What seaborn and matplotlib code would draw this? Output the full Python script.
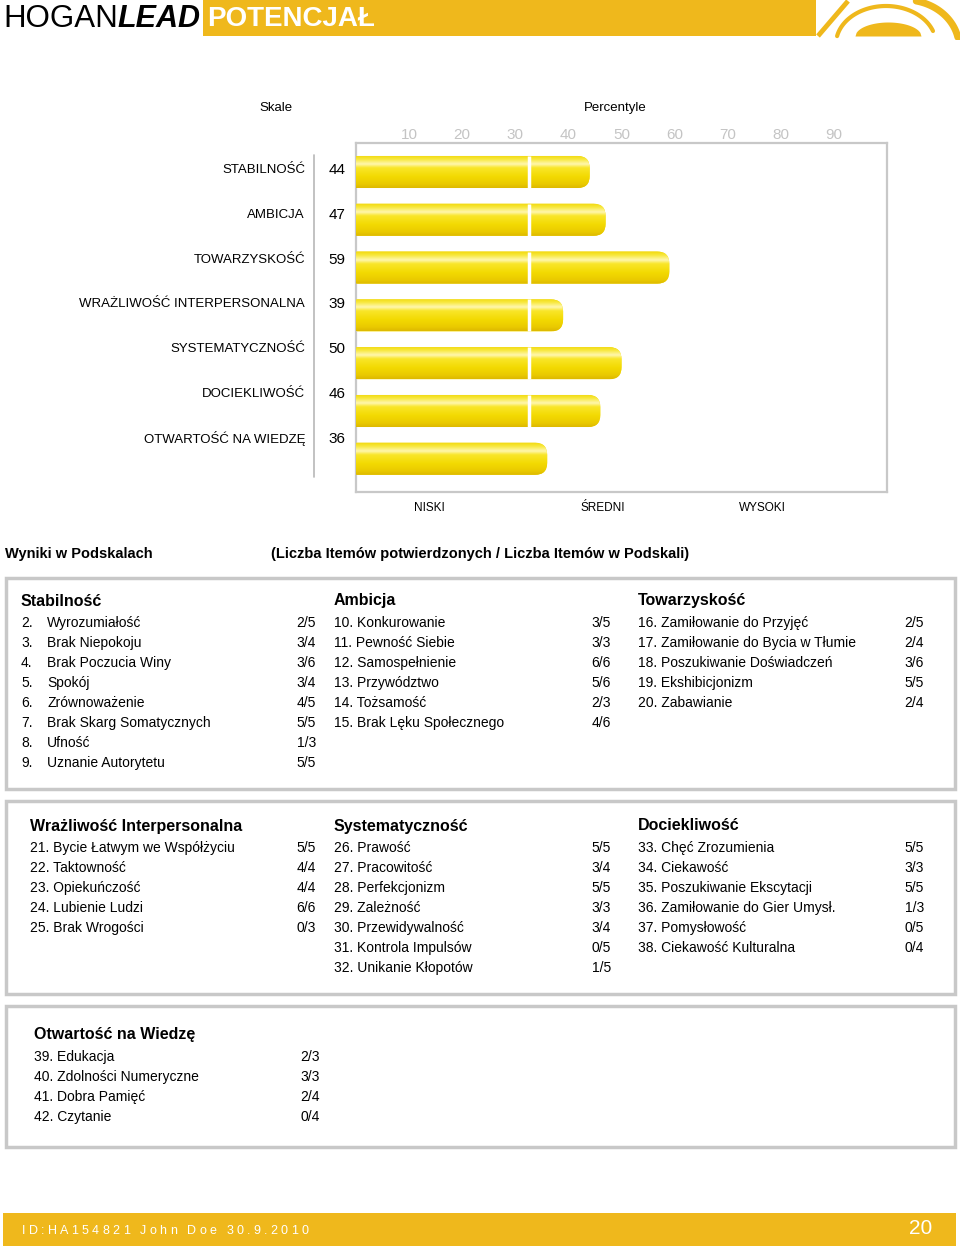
import numpy as np
import pandas as pd
import seaborn as sns
import matplotlib.pyplot as plt
from matplotlib.patches import FancyBboxPatch, Rectangle, BoxStyle
from matplotlib.lines import Line2D
from matplotlib.colors import LinearSegmentedColormap

# --- data ---------------------------------------------------------------
scales = ["STABILNOŚĆ", "AMBICJA", "TOWARZYSKOŚĆ", "WRAŻLIWOŚĆ INTERPERSONALNA",
          "SYSTEMATYCZNOŚĆ", "DOCIEKLIWOŚĆ", "OTWARTOŚĆ NA WIEDZĘ"]
percentiles = [44, 47, 59, 39, 50, 46, 36]
pct_ticks = [10, 20, 30, 40, 50, 60, 70, 80, 90]
bands = ["NISKI", "ŚREDNI", "WYSOKI"]

stab_items = ["Wyrozumiałość", "Brak Niepokoju", "Brak Poczucia Winy", "Spokój",
              "Zrównoważenie", "Brak Skarg Somatycznych", "Ufność", "Uznanie Autorytetu"]
stab_scores = ["2/5", "3/4", "3/6", "3/4", "4/5", "5/5", "1/3", "5/5"]
amb_items = ["Konkurowanie", "Pewność Siebie", "Samospełnienie", "Przywództwo",
             "Tożsamość", "Brak Lęku Społecznego"]
amb_scores = ["3/5", "3/3", "6/6", "5/6", "2/3", "4/6"]
tow_items = ["Zamiłowanie do Przyjęć", "Zamiłowanie do Bycia w Tłumie",
             "Poszukiwanie Doświadczeń", "Ekshibicjonizm", "Zabawianie"]
tow_scores = ["2/5", "2/4", "3/6", "5/5", "2/4"]
wra_items = ["Bycie Łatwym we Współżyciu", "Taktowność", "Opiekuńczość",
             "Lubienie Ludzi", "Brak Wrogości"]
wra_scores = ["5/5", "4/4", "4/4", "6/6", "0/3"]
sys_items = ["Prawość", "Pracowitość", "Perfekcjonizm", "Zależność",
             "Przewidywalność", "Kontrola Impulsów", "Unikanie Kłopotów"]
sys_scores = ["5/5", "3/4", "5/5", "3/3", "3/4", "0/5", "1/5"]
doc_items = ["Chęć Zrozumienia", "Ciekawość", "Poszukiwanie Ekscytacji",
             "Zamiłowanie do Gier Umysł.", "Pomysłowość", "Ciekawość Kulturalna"]
doc_scores = ["5/5", "3/3", "5/5", "1/3", "0/5", "0/4"]
otw_items = ["Edukacja", "Zdolności Numeryczne", "Dobra Pamięć", "Czytanie"]
otw_scores = ["2/3", "3/3", "2/4", "0/4"]

footer_id = "ID:HA154821 John Doe 30.9.2010"
page_no = "20"

# --- style --------------------------------------------------------------
sns.set_style("white")
plt.rcParams["font.family"] = ["Liberation Sans", "DejaVu Sans"]

W, H = 960, 1246
GOLD = "#EFB81C"
GRAY_LINE = "#c8c8c8"
fig = plt.figure(figsize=(W / 100, H / 100), dpi=100)
renderer = fig.canvas.get_renderer()


def fx(x):
    return x / W


def fy(y):
    return 1 - y / H


def txt(x, y, s, **kw):
    kw.setdefault("va", "center")
    kw.setdefault("color", "black")
    return fig.text(fx(x), fy(y), s, **kw)


def frame(x0, y0, x1, y1, **kw):
    r = Rectangle((fx(x0), fy(y1)), (x1 - x0) / W, (y1 - y0) / H,
                  transform=fig.transFigure, **kw)
    fig.add_artist(r)


# --- header -------------------------------------------------------------
frame(203, 0, 812, 36, facecolor=GOLD, edgecolor="none")
t1 = txt(3, 19, "HOGAN", fontsize=22.5)
w1 = t1.get_window_extent(renderer).width
txt(3 + w1, 19, "LEAD", fontsize=22, fontweight="bold", fontstyle="italic")
txt(207, 19, "POTENCJAŁ", fontsize=20, color="white", fontweight="bold")

# logo arcs
lax = fig.add_axes([fx(812), fy(40), 148 / W, 40 / H])
lax.set_xlim(812, 960)
lax.set_ylim(40, 0)
lax.axis("off")
lax.fill_between([812, 816], 0, 36, color=GOLD, lw=0)
lax.plot([818, 848], [36, 1], color=GOLD, lw=3.5, solid_capstyle="butt")
t = np.linspace(np.radians(20), np.radians(168), 60)
lax.plot(886 + 50 * np.cos(t), 44 - 38 * np.sin(t), color=GOLD, lw=3)
xd = np.linspace(855, 921, 60)
lax.fill_between(xd, 36, 36 - 14 * np.sqrt(np.clip(1 - ((xd - 888) / 33) ** 2, 0, 1)),
                 color=GOLD, lw=0)
t = np.linspace(np.radians(12), np.radians(78), 60)
lax.plot(905 + 54 * np.cos(t), 47 - 47 * np.sin(t), color=GOLD, lw=5)

# --- percentile chart ---------------------------------------------------
AX_L, AX_R, AX_T, AX_B = 356, 887, 143, 492
BAR_Y0, BAR_STEP = 172, 47.8
ax = fig.add_axes([fx(AX_L), fy(AX_B), (AX_R - AX_L) / W, (AX_B - AX_T) / H])

df = pd.DataFrame({"scale": scales, "pct": percentiles})
sns.barplot(data=df, x="pct", y="scale", orient="h", ax=ax, width=0.67,
            color="#F3DA00", errorbar=None)

ylo = (AX_T - BAR_Y0) / BAR_STEP
yhi = (AX_B - BAR_Y0) / BAR_STEP
ax.set_xlim(0, 100)
ax.set_ylim(yhi, ylo)

px_x = (AX_R - AX_L) / 100.0
px_y = BAR_STEP
aspect = px_x / px_y

grad = LinearSegmentedColormap.from_list("bar", [
    (0.0, "#F1D80C"), (0.12, "#F8E83C"), (0.27, "#FFF7B2"), (0.38, "#F9E62A"),
    (0.65, "#F3DA02"), (0.88, "#EACA00"), (1.0, "#DDB900")])
gimg = np.linspace(0, 1, 80).reshape(-1, 1)

GAP = 32.5
bars = list(ax.patches)
for p, v in zip(bars, percentiles):
    x0, y0 = p.get_x(), p.get_y()
    w, h = p.get_width(), p.get_height()
    p.remove()
    shape = FancyBboxPatch((x0 - 5, y0), w + 5, h,
                           boxstyle=BoxStyle("Round", pad=0, rounding_size=12 / px_x),
                           mutation_aspect=aspect, facecolor="#F3DA00",
                           edgecolor="none", zorder=2)
    ax.add_patch(shape)
    im = ax.imshow(gimg, cmap=grad, aspect="auto", extent=(x0 - 5, x0 + w, y0 + h, y0),
                   interpolation="bicubic", zorder=3)
    im.set_clip_path(shape)
    if v > GAP + 4:
        ax.vlines(GAP, y0, y0 + h, color="white", lw=2.5, zorder=4)

ax.set_xlim(0, 100)
ax.set_ylim(yhi, ylo)
ax.set_xlabel("")
ax.set_ylabel("")
ax.set_yticks([])
ax.set_xticks(pct_ticks)
ax.xaxis.tick_top()
ax.tick_params(axis="x", length=0, pad=1, labelsize=11, labelcolor="#c4c4c4")
for s in ax.spines.values():
    s.set_visible(True)
    s.set_color(GRAY_LINE)
    s.set_linewidth(1.6)

for i, (name, v) in enumerate(zip(scales, percentiles)):
    yy = 170 + 44.8 * i
    txt(305, yy, name, fontsize=9.5, ha="right")
    txt(337, yy, str(v), fontsize=11, ha="center")

fig.add_artist(Line2D([fx(314), fx(314)], [fy(155), fy(477)],
                      transform=fig.transFigure, color="#b8b8b8", lw=1.2))

txt(276, 108, "Skale", fontsize=9.5, ha="center")
txt(615, 108, "Percentyle", fontsize=9.5, ha="center")
for b, bx in zip(bands, [429, 603, 762]):
    txt(bx, 508, b, fontsize=8.5, ha="center")

# --- subscale tables ----------------------------------------------------
txt(5, 554, "Wyniki w Podskalach", fontsize=10.5, fontweight="bold")
txt(271, 554, "(Liczba Itemów potwierdzonych / Liczba Itemów w Podskali)",
    fontsize=10.5, fontweight="bold")

frame(6, 578, 955, 789, fill=False, edgecolor=GRAY_LINE, lw=2.5)
frame(6, 801, 955, 994, fill=False, edgecolor=GRAY_LINE, lw=2.5)
frame(6, 1006, 955, 1147, fill=False, edgecolor=GRAY_LINE, lw=2.5)


def block(title, items, scores, start, x, x_right, y_title, split=False):
    txt(x, y_title, title, fontsize=11.5, fontweight="bold")
    for i, (it, sc) in enumerate(zip(items, scores)):
        yy = y_title + 22 + 20 * i
        if split:
            txt(x, yy, f"{start + i}.", fontsize=10)
            txt(x + 26, yy, it, fontsize=10)
        else:
            txt(x, yy, f"{start + i}. {it}", fontsize=10)
        txt(x_right, yy, sc, fontsize=10, ha="right")


block("Stabilność", stab_items, stab_scores, 2, 21, 316, 601, split=True)
block("Ambicja", amb_items, amb_scores, 10, 334, 611, 601)
block("Towarzyskość", tow_items, tow_scores, 16, 638, 924, 601)
block("Wrażliwość Interpersonalna", wra_items, wra_scores, 21, 30, 316, 826)
block("Systematyczność", sys_items, sys_scores, 26, 334, 611, 826)
block("Dociekliwość", doc_items, doc_scores, 33, 638, 924, 826)
block("Otwartość na Wiedzę", otw_items, otw_scores, 39, 34, 320, 1035)

# --- footer -------------------------------------------------------------
frame(3, 1213, 956, 1246, facecolor=GOLD, edgecolor="none")
# letter-spaced id string: measure glyph widths, spread over 22..308 px
chars = [txt(0, 1231, ch, fontsize=9, color="white") for ch in footer_id]
widths = []
for c in chars:
    if c.get_text() == " ":
        widths.append(3.5)
    else:
        widths.append(c.get_window_extent(renderer).width)
track = (308 - 22 - sum(widths)) / (len(chars) - 1)
xpos = 22
for c, wch in zip(chars, widths):
    c.set_x(fx(xpos))
    xpos += wch + track
txt(932, 1229, page_no, fontsize=15, color="white", ha="right")

fig.savefig("out.png", dpi=100)
